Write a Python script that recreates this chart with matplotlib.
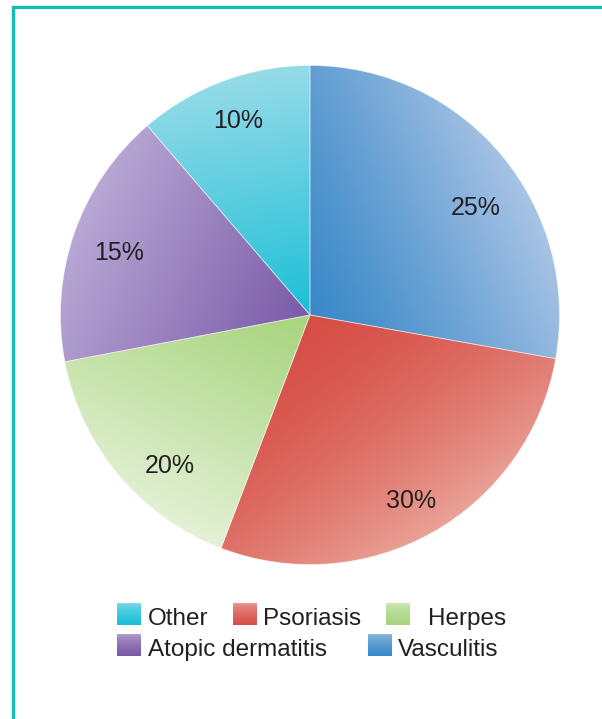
import numpy as np
import matplotlib.pyplot as plt
from matplotlib.colors import to_rgb

# slices clockwise from 12 o'clock
names = ["Vasculitis", "Psoriasis", "Herpes", "Atopic dermatitis", "Other"]
shares = [27.8, 28.0, 16.2, 16.7, 11.3]          # drawn share of the circle
pct_labels = ["25%", "30%", "20%", "15%", "10%"]  # printed labels
dark_colors = ["#3a89c8", "#d64f47", "#a8d47e", "#7a5aa7", "#1bbfd7"]
light_colors = ["#a9c4e5", "#eaa297", "#e4f1d6", "#b8a8d5", "#96dbe8"]
grad_angles = [25, -55, 245, 155, 100]
grad_gamma = [1.2, 1.6, 1.1, 1.0, 1.0]

# where the printed labels sit (angle in degrees, fraction of radius)
label_polar = [(33, 0.79), (-61.5, 0.85), (227, 0.825), (162, 0.806), (110.4, 0.83)]

legend_order = ["Other", "Psoriasis", "Herpes", "Atopic dermatitis", "Vasculitis"]

TEXT = "#231f20"
BORDER = "#13bcb4"
plt.rcParams["font.family"] = ["Liberation Sans", "DejaVu Sans"]

W, H = 602, 719
fig = plt.figure(figsize=(W / 100, H / 100), dpi=100)

cx, cy, r = 310, 315, 252
ax = fig.add_axes([(cx - r) / W, (H - cy - r) / H, 2 * r / W, 2 * r / H])

wedges, texts = ax.pie(
    shares, labels=pct_labels, startangle=90, counterclock=False, radius=1,
    wedgeprops=dict(facecolor="none", edgecolor=(1, 1, 1, 0.45), linewidth=0.6, zorder=3),
    textprops=dict(fontsize=18, color=TEXT),
)
for t, (ang, dist) in zip(texts, label_polar):
    a = np.radians(ang)
    t.set_position((dist * np.cos(a), dist * np.sin(a)))
    t.set_ha("center")
    t.set_va("center")
    t.set_zorder(5)

n = 400
gx, gy = np.meshgrid(np.linspace(-1, 1, n), np.linspace(-1, 1, n))


def gradient_fill(axis, wedge, c0, c1, ang, gamma):
    a = np.radians(ang)
    th = np.radians(np.linspace(wedge.theta1, wedge.theta2, 60))
    px = np.r_[0, np.cos(th)] * np.cos(a) + np.r_[0, np.sin(th)] * np.sin(a)
    proj = gx * np.cos(a) + gy * np.sin(a)
    t = np.clip((proj - px.min()) / (px.max() - px.min()), 0, 1) ** gamma
    t = t[..., None]
    img = np.array(to_rgb(c0)) * (1 - t) + np.array(to_rgb(c1)) * t
    im = axis.imshow(img, extent=[-1, 1, -1, 1], origin="lower", zorder=2,
                     interpolation="bilinear")
    im.set_clip_path(wedge)


for w, c0, c1, ang, g in zip(wedges, dark_colors, light_colors, grad_angles, grad_gamma):
    gradient_fill(ax, w, c0, c1, ang, g)

ax.set_xlim(-1.01, 1.01)
ax.set_ylim(-1.01, 1.01)
ax.set_aspect("equal")
ax.axis("off")

# overlay in pixel coordinates for border and legend
lax = fig.add_axes([0, 0, 1, 1], zorder=-1)
lax.set_xlim(0, W)
lax.set_ylim(H, 0)
lax.axis("off")
lax.plot([13, 13, W + 5], [H + 5, 7, 7], color=BORDER, lw=2.4, solid_capstyle="butt",
         solid_joinstyle="miter")

lax2 = fig.add_axes([0, 0, 1, 1])
lax2.axis("off")

# legend layout: (square x, text x, baseline y)
legend_pos = [(117, 148, 625), (233, 263, 625), (386, 428, 625),
              (117, 148, 656), (368, 398, 656)]
sq_w, sq_h = 24, 22
vert = np.linspace(0, 1, 50)[:, None, None] ** 0.6
for name, (sx, tx, by) in zip(legend_order, legend_pos):
    i = names.index(name)
    c1 = np.array(to_rgb(dark_colors[i]))
    c0 = c1 * 0.55 + 0.45
    img = c0 * (1 - vert) + c1 * vert
    img = np.repeat(img, 10, axis=1)
    lax2.imshow(img, extent=[sx, sx + sq_w, by, by - sq_h], origin="upper",
                aspect="auto", interpolation="bilinear")
    lax2.text(tx, by, name, fontsize=17.5, color=TEXT, ha="left", va="baseline")

lax2.set_xlim(0, W)
lax2.set_ylim(H, 0)

fig.savefig("out.png", dpi=100)
